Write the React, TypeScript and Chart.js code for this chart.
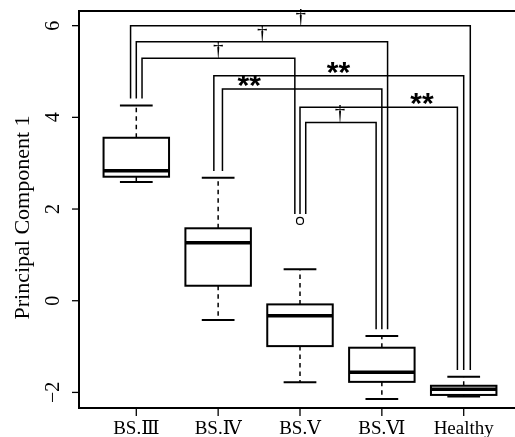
import { useEffect, useRef } from 'react';
import { Chart, registerables } from 'chart.js';

Chart.register(...registerables);

// Groups along the x axis
const groups = ['BS.Ⅲ', 'BS.Ⅳ', 'BS.Ⅴ', 'BS.Ⅵ', 'Healthy'];

// Five-number summaries of Principal Component 1 for each group
const whiskerLow = [2.59, -0.42, -1.78, -2.145, -2.09];
const quartile1 = [2.705, 0.327, -0.99, -1.77, -2.055];
const medians = [2.835, 1.265, -0.33, -1.56, -1.93];
const quartile3 = [3.555, 1.58, -0.08, -1.025, -1.855];
const whiskerHigh = [4.26, 2.68, 0.685, -0.77, -1.66];

// Outlying observations (group index is 1-based)
const outlierGroup = [3];
const outlierValue = [1.74];

// y-axis ticks
const yTicks = [-2, 0, 2, 4, 6];

// Pairwise comparison brackets
const bracketFrom = [1, 1, 1, 2, 2, 3, 3];
const bracketTo = [5, 4, 3, 5, 4, 5, 4];
const bracketLevel = [6.0, 5.65, 5.29, 4.91, 4.62, 4.22, 3.89];
const bracketMark = ['†', '†', '†', '**', '**', '**', '†'];
const bracketMarkAt = [3.01, 2.54, 2.0, 3.47, 2.38, 4.49, 3.49];
// which side-by-side leg slot each bracket uses at its two ends
const legSlotFrom = [-1, 0, 1, -0.75, 0.75, 0, 1];
const legSlotTo = [1.15, 1, -0.9, 0, 0, -1.1, -1];

const SERIF = "'Liberation Serif', 'DejaVu Serif', 'Noto Sans CJK JP', serif";

const boxplotPlugin = {
  id: 'boxplotPlugin',
  afterDatasetsDraw(chart: any) {
    const ctx: CanvasRenderingContext2D = chart.ctx;
    const xs = chart.scales.x;
    const ys = chart.scales.y;
    const area = chart.chartArea;
    const px = (v: number) => xs.getPixelForValue(v);
    const py = (v: number) => ys.getPixelForValue(v);
    const boxHalf = 0.4;
    const capHalf = 0.2;
    const slot = 0.07;
    const legGap = 0.15;

    ctx.save();
    ctx.strokeStyle = '#000';
    ctx.fillStyle = '#000';
    ctx.lineCap = 'butt';

    // boxes and whiskers
    groups.forEach((_, i) => {
      const c = i + 1;
      // dashed whiskers
      ctx.setLineDash([4.5, 4]);
      ctx.lineWidth = 1.5;
      ctx.beginPath();
      ctx.moveTo(px(c), py(quartile3[i]));
      ctx.lineTo(px(c), py(whiskerHigh[i]));
      ctx.moveTo(px(c), py(quartile1[i]));
      ctx.lineTo(px(c), py(whiskerLow[i]));
      ctx.stroke();
      ctx.setLineDash([]);
      // caps
      ctx.lineWidth = 2;
      ctx.beginPath();
      ctx.moveTo(px(c - capHalf), py(whiskerHigh[i]));
      ctx.lineTo(px(c + capHalf), py(whiskerHigh[i]));
      ctx.moveTo(px(c - capHalf), py(whiskerLow[i]));
      ctx.lineTo(px(c + capHalf), py(whiskerLow[i]));
      ctx.stroke();
      // box
      ctx.fillStyle = '#fff';
      const bx = px(c - boxHalf);
      const bw = px(c + boxHalf) - bx;
      const by = py(quartile3[i]);
      const bh = py(quartile1[i]) - by;
      ctx.fillRect(bx, by, bw, bh);
      ctx.lineWidth = 2;
      ctx.strokeRect(bx, by, bw, bh);
      // median
      ctx.lineWidth = 3.5;
      ctx.beginPath();
      ctx.moveTo(bx, py(medians[i]));
      ctx.lineTo(bx + bw, py(medians[i]));
      ctx.stroke();
    });

    // top of each group (whisker or outlier) for bracket legs
    const groupTop = groups.map((_, i) => {
      let t = whiskerHigh[i];
      outlierGroup.forEach((g, k) => {
        if (g === i + 1) t = Math.max(t, outlierValue[k]);
      });
      return t + legGap;
    });

    // brackets
    ctx.lineWidth = 1.5;
    bracketFrom.forEach((from, k) => {
      const to = bracketTo[k];
      const x1 = px(from + legSlotFrom[k] * slot);
      const x2 = px(to + legSlotTo[k] * slot);
      const yh = py(bracketLevel[k]);
      ctx.beginPath();
      ctx.moveTo(x1, py(groupTop[from - 1]));
      ctx.lineTo(x1, yh);
      ctx.lineTo(x2, yh);
      ctx.lineTo(x2, py(groupTop[to - 1]));
      ctx.stroke();

      const mark = bracketMark[k];
      const mx = px(bracketMarkAt[k]);
      ctx.fillStyle = '#000';
      ctx.textAlign = 'center';
      ctx.textBaseline = 'alphabetic';
      if (mark === '†') {
        ctx.font = `21px ${SERIF}`;
        const m = ctx.measureText(mark);
        ctx.fillText(mark, mx, yh - m.actualBoundingBoxDescent);
      } else {
        ctx.font = `bold 30px 'Liberation Sans', Arial, sans-serif`;
        const m = ctx.measureText(mark);
        ctx.fillText(mark, mx, yh - 2 - m.actualBoundingBoxDescent);
      }
    });

    // plot frame
    ctx.lineWidth = 2;
    ctx.strokeRect(area.left, area.top, area.right - area.left, area.bottom - area.top);

    // x axis ticks and labels
    ctx.lineWidth = 1.3;
    ctx.font = `19px ${SERIF}`;
    ctx.textAlign = 'center';
    ctx.textBaseline = 'alphabetic';
    groups.forEach((g, i) => {
      const x = px(i + 1);
      ctx.beginPath();
      ctx.moveTo(x, area.bottom);
      ctx.lineTo(x, area.bottom + 8);
      ctx.stroke();
      ctx.fillText(g, x, area.bottom + 26);
    });

    // y axis ticks and rotated labels
    ctx.font = `20px ${SERIF}`;
    ctx.textBaseline = 'middle';
    yTicks.forEach((t) => {
      const y = py(t);
      ctx.beginPath();
      ctx.moveTo(area.left, y);
      ctx.lineTo(area.left - 7, y);
      ctx.stroke();
      ctx.save();
      ctx.translate(area.left - 25, y);
      ctx.rotate(-Math.PI / 2);
      ctx.fillText(t < 0 ? '\u2212' + Math.abs(t) : String(t), 0, 0);
      ctx.restore();
    });

    // y axis title
    ctx.font = `22px ${SERIF}`;
    ctx.save();
    ctx.translate(area.left - 56, (area.top + area.bottom) / 2 + 8);
    ctx.rotate(-Math.PI / 2);
    ctx.fillText('Principal Component 1', 0, 0);
    ctx.restore();

    ctx.restore();
  },
};

export default function App() {
  const ref = useRef<HTMLCanvasElement>(null);

  useEffect(() => {
    const canvas = ref.current;
    if (!canvas) return;
    const chart = new Chart(canvas, {
      type: 'scatter',
      data: {
        datasets: [
          {
            data: outlierGroup.map((g, k) => ({ x: g, y: outlierValue[k] })),
            pointStyle: 'circle',
            pointRadius: 3.5,
            borderWidth: 1.2,
            borderColor: '#000',
            backgroundColor: 'rgba(0,0,0,0)',
          },
        ],
      },
      options: {
        responsive: false,
        animation: false,
        devicePixelRatio: 1,
        events: [],
        layout: { padding: { left: 79, top: 11, right: 9, bottom: 29 } },
        plugins: { legend: { display: false }, tooltip: { enabled: false } },
        scales: {
          x: { type: 'linear', min: 0.3, max: 5.7, display: false },
          y: { type: 'linear', min: -2.34, max: 6.32, display: false },
        },
      },
      plugins: [boxplotPlugin],
    });
    return () => chart.destroy();
  }, []);

  return (
    <div
      style={{
        position: 'fixed',
        left: 0,
        top: 0,
        width: 515,
        height: 437,
        overflow: 'hidden',
        background: '#fff',
      }}
    >
      <canvas ref={ref} width={530} height={437} style={{ display: 'block' }} />
    </div>
  );
}
